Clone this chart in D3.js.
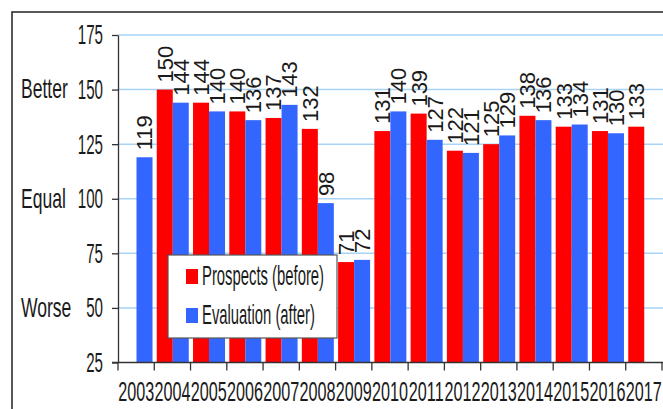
<!DOCTYPE html>
<html>
<head>
<meta charset="utf-8">
<script src="https://cdn.jsdelivr.net/npm/d3@7"></script>
<style>
  html, body { margin: 0; padding: 0; background: #fff; }
  svg { display: block; }
  text { font-family: "Liberation Sans", Arial, sans-serif; fill: #1a1a1a; }
</style>
</head>
<body>
<div id="chart"></div>
<script>
// Survey results per year: prospects asked before the year, evaluation after it
const years = ["2003","2004","2005","2006","2007","2008","2009","2010","2011","2012","2013","2014","2015","2016","2017"];
const prospects = [null,150,144,140,137,132,71,131,139,122,125,138,133,131,133];
const evaluation = [119,144,140,136,143,98,72,140,127,121,129,136,134,130,null];
const seriesKeys = ["before","after"];
const seriesNames = ["Prospects (before)","Evaluation (after)"];
const seriesColors = ["#ff0000","#3366ff"];
const yTicks = [25,50,75,100,125,150,175];
const sideLabels = [["Better",150],["Equal",100],["Worse",50]];

const W = 663, H = 409;
const FS = 27;         // axis / legend font size
const SQ = 0.6;        // horizontal squeeze of the condensed numerals

const svg = d3.select("#chart").append("svg").attr("width", W).attr("height", H);

const x = d3.scaleBand().domain(years).range([118, 662]).padding(0);
const xs = d3.scaleBand().domain(seriesKeys).range([2.5, 34.5]).padding(0);
const y = d3.scaleLinear().domain([25, 175]).range([362.5, 35]);

// outer frame (left and top edges)
svg.append("path")
  .attr("d", `M12,${H} V12 H${W}`)
  .attr("fill", "none").attr("stroke", "#222").attr("stroke-width", 1.5);

// horizontal gridlines
svg.append("g").selectAll("line")
  .data(yTicks.filter(t => t > 25))
  .join("line")
  .attr("x1", x.range()[0]).attr("x2", W)
  .attr("y1", d => y(d)).attr("y2", d => y(d))
  .attr("stroke", "#a9d3f5").attr("stroke-width", 1.5);

// bars
const rows = years.map((yr, i) => ({ year: yr, before: prospects[i], after: evaluation[i] }));
const bars = [];
rows.forEach(r => seriesKeys.forEach((k, j) => {
  if (r[k] != null) bars.push({ year: r.year, key: k, value: r[k], color: seriesColors[j] });
}));

svg.append("g").selectAll("rect")
  .data(bars)
  .join("rect")
  .attr("x", d => x(d.year) + xs(d.key))
  .attr("width", xs.bandwidth())
  .attr("y", d => y(d.value))
  .attr("height", d => y(25) - y(d.value))
  .attr("fill", d => d.color);

// value labels, written upward above each bar
svg.append("g").selectAll("text")
  .data(bars)
  .join("text")
  .attr("transform", d => `translate(${x(d.year) + xs(d.key) + xs.bandwidth() / 2},${y(d.value) - 7}) rotate(-90)`)
  .attr("dy", "0.36em")
  .attr("text-anchor", "start")
  .attr("font-size", 22)
  .text(d => d.value);

// y axis
const yAxis = svg.append("g")
  .attr("transform", `translate(${x.range()[0]},0)`)
  .call(d3.axisLeft(y).tickValues(yTicks).tickSizeInner(6).tickSizeOuter(0).tickFormat(d3.format("d")));
yAxis.select(".domain").attr("stroke", "#333").attr("stroke-width", 1.3);
yAxis.selectAll(".tick line").attr("stroke", "#333").attr("stroke-width", 1.3);
yAxis.selectAll(".tick text")
  .attr("x", 0).attr("dy", "0.33em")
  .attr("transform", `translate(-15,0) scale(0.56,1)`)
  .attr("font-size", FS).attr("font-family", null).attr("fill", "#1a1a1a");

// verbal scale beside the numbers
svg.append("g").selectAll("text")
  .data(sideLabels)
  .join("text")
  .attr("transform", d => `translate(21,${y(d[1])}) scale(0.65,1)`)
  .attr("dy", "0.33em")
  .attr("font-size", FS)
  .text(d => d[0]);

// x axis: year labels centred in each band
const xAxis = svg.append("g")
  .attr("transform", `translate(0,${y(25)})`)
  .call(d3.axisBottom(x).tickSize(0).tickPadding(19));
xAxis.select(".domain").remove();
xAxis.selectAll(".tick text")
  .attr("transform", `scale(${SQ},1)`)
  .attr("font-size", FS).attr("font-family", null).attr("fill", "#1a1a1a");

// x axis line and band-boundary ticks
const bounds = years.map(yr => x(yr)).concat([x.range()[1]]);
svg.append("line")
  .attr("x1", x.range()[0] - 6).attr("x2", x.range()[1] + 1)
  .attr("y1", y(25)).attr("y2", y(25))
  .attr("stroke", "#333").attr("stroke-width", 1.3);
svg.append("g").selectAll("line")
  .data(bounds)
  .join("line")
  .attr("x1", d => d).attr("x2", d => d)
  .attr("y1", y(25)).attr("y2", y(25) + 8)
  .attr("stroke", "#333").attr("stroke-width", 1.3);

// legend
const lg = svg.append("g").attr("transform", "translate(168,255)");
lg.append("rect")
  .attr("width", 169).attr("height", 83)
  .attr("fill", "#fff").attr("stroke", "#555").attr("stroke-width", 1.2);
const items = lg.selectAll("g.item")
  .data(seriesNames.map((n, i) => ({ name: n, color: seriesColors[i] })))
  .join("g").attr("class", "item")
  .attr("transform", (d, i) => `translate(18,${14 + i * 39})`);
items.append("rect").attr("width", 12).attr("height", 15).attr("fill", d => d.color);
items.append("text")
  .attr("transform", `translate(16,16) scale(0.55,1)`)
  .attr("font-size", FS)
  .text(d => d.name);
</script>
</body>
</html>
